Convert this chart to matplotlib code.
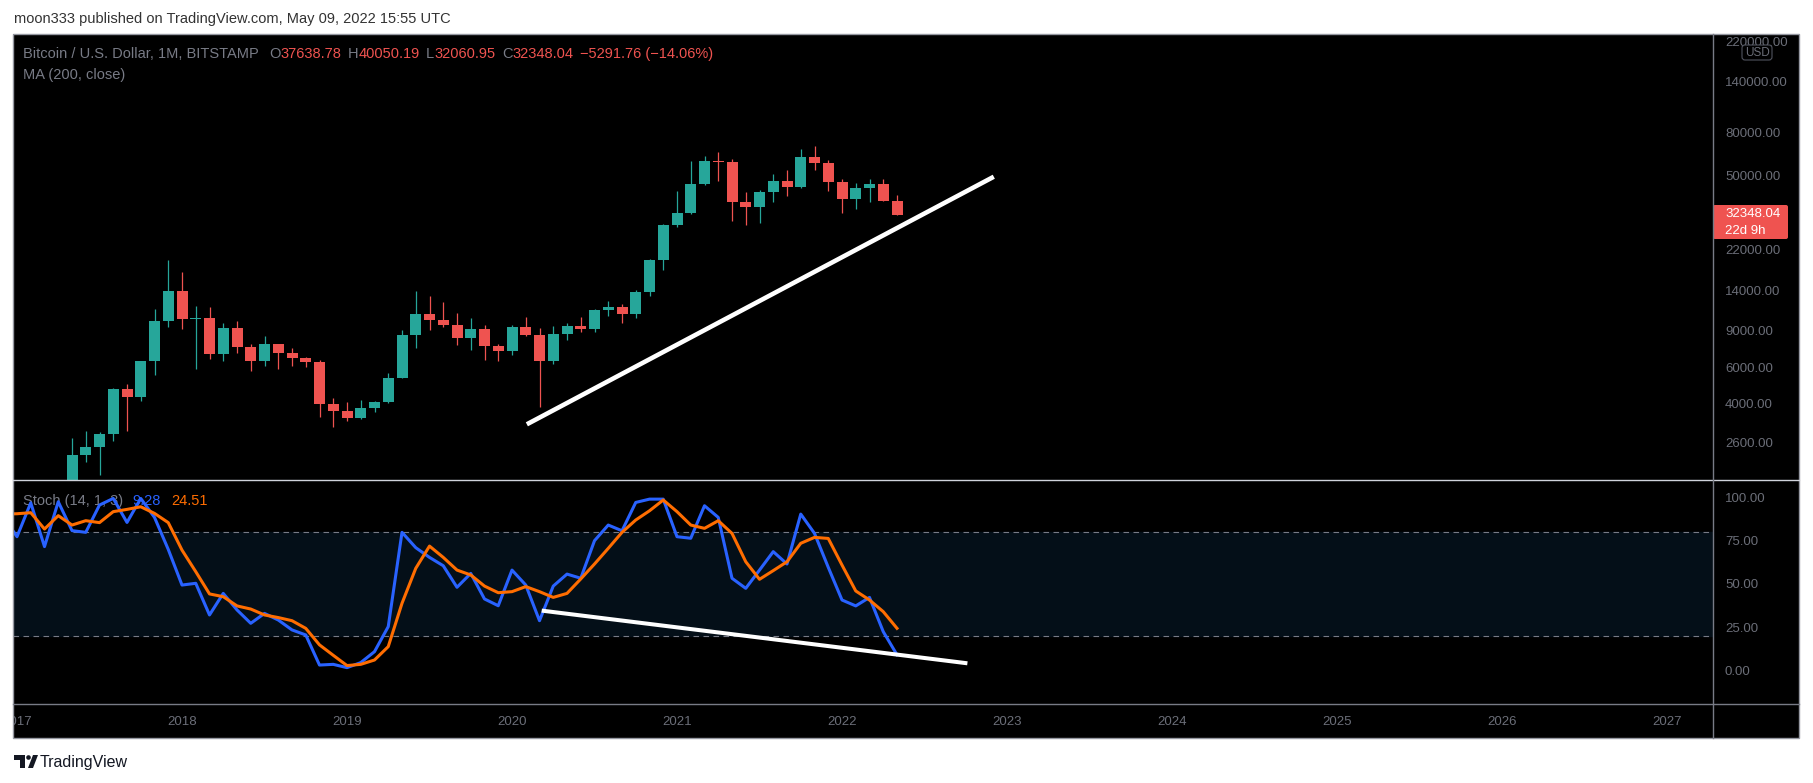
import matplotlib
matplotlib.use('Agg')
import matplotlib.pyplot as plt
from matplotlib.patches import Rectangle, FancyBboxPatch, Circle, Polygon
from matplotlib.ticker import NullLocator

plt.rcParams['font.family'] = ['Liberation Sans', 'DejaVu Sans']

W, H = 1813, 783

# monthly candles BTC/USD (Bitstamp)
months = ['2017-05', '2017-06', '2017-07', '2017-08', '2017-09', '2017-10', '2017-11', '2017-12',
          '2018-01', '2018-02', '2018-03', '2018-04', '2018-05', '2018-06', '2018-07', '2018-08',
          '2018-09', '2018-10', '2018-11', '2018-12',
          '2019-01', '2019-02', '2019-03', '2019-04', '2019-05', '2019-06', '2019-07', '2019-08',
          '2019-09', '2019-10', '2019-11', '2019-12',
          '2020-01', '2020-02', '2020-03', '2020-04', '2020-05', '2020-06', '2020-07', '2020-08',
          '2020-09', '2020-10', '2020-11', '2020-12',
          '2021-01', '2021-02', '2021-03', '2021-04', '2021-05', '2021-06', '2021-07', '2021-08',
          '2021-09', '2021-10', '2021-11', '2021-12',
          '2022-01', '2022-02', '2022-03', '2022-04', '2022-05']
opens = [1348, 2286, 2480, 2875, 4740, 4340, 6440, 9950,
         13860, 10250, 10330, 6920, 9250, 7500, 6400, 7730, 7030, 6630, 6370, 4010,
         3690, 3440, 3820, 4100, 5320, 8570, 10820, 10080, 9600, 8290, 9150, 7550,
         7200, 9350, 8540, 6420, 8630, 9450, 9140, 11340, 11650, 10780, 13800, 19700,
         28990, 33110, 45140, 58780, 57720, 37300, 35040, 41460, 47130, 43820, 61320, 57000,
         46220, 38480, 43180, 45530, 37638.78]
highs = [2760, 2980, 2920, 4760, 4975, 6460, 11400, 19660,
         17200, 11800, 11700, 9750, 10020, 7760, 8500, 7760, 7410, 6740, 6500, 4270,
         4080, 4180, 4140, 5620, 9060, 13880, 13180, 12330, 10900, 10330, 9570, 7740,
         9570, 10440, 9250, 9460, 9780, 10440, 11440, 12470, 12050, 14060, 19860, 29300,
         41950, 58350, 61780, 64900, 59600, 41330, 42400, 50500, 52950, 67000, 69000, 59100,
         47990, 45800, 48200, 47950, 40050.19]
lows = [1348, 2100, 1830, 2670, 2970, 4110, 5500, 9380,
        9200, 5870, 6590, 6440, 7050, 5770, 6090, 5900, 6090, 6030, 3475, 3110,
        3310, 3380, 3660, 4030, 5350, 7450, 9060, 9350, 7680, 7260, 6500, 6430,
        6870, 8450, 3850, 6190, 8130, 8870, 8900, 10600, 9820, 10380, 13200, 17600,
        28150, 32400, 44950, 47000, 30000, 28800, 29600, 37330, 39600, 43300, 53250, 42000,
        32950, 34320, 37180, 37600, 32060.95]
closes = [2286, 2480, 2875, 4740, 4340, 6440, 9950, 13860,
          10250, 10330, 6920, 9250, 7500, 6400, 7730, 7030, 6630, 6370, 4010, 3690,
          3440, 3820, 4100, 5320, 8570, 10820, 10080, 9600, 8290, 9150, 7550, 7200,
          9350, 8540, 6420, 8630, 9450, 9140, 11340, 11650, 10780, 13800, 19700, 28990,
          33110, 45140, 58780, 57720, 37300, 35040, 41460, 47130, 43820, 61320, 57000, 46220,
          38480, 43180, 45530, 37639.80, 32348.04]

# Stoch (14, 1, 3): %K blue, %D orange, Dec 2016 - May 2022
stoch_months = ['2016-12'] + [f'{y}-{m:02d}' for y in range(2017, 2022) for m in range(1, 13)] + \
               ['2022-01', '2022-02', '2022-03', '2022-04', '2022-05']
stoch_k = [88.7,
           77.2, 96.7, 71.5, 97.3, 80.7, 79.7, 95.4, 99.2, 85.4, 99.2, 88.3, 69.9,
           49.4, 50.4, 32.2, 44.6, 35.1, 27.4, 33.1, 29.3, 23.6, 20.7, 3.4, 3.8,
           1.9, 4.8, 11.1, 25.5, 79.7, 70.9, 65.3, 60.5, 48.1, 56.1, 41.4, 37.5,
           58.0, 49.4, 28.9, 48.8, 55.7, 53.3, 74.9, 83.9, 80.6, 96.9, 98.8, 98.8,
           77.2, 76.3, 95.0, 88.3, 53.3, 47.5, 58.0, 68.6, 61.5, 90.2, 79.1, 59.6,
           40.8, 37.4, 42.3, 22.6, 9.28]
stoch_d = [90.2,
           90.4, 91.0, 81.6, 89.3, 83.9, 86.4, 85.3, 91.6, 92.9, 94.4, 90.6, 85.3,
           69.5, 57.1, 44.3, 42.7, 37.4, 35.6, 32.2, 30.7, 28.9, 24.5, 15.0, 9.0,
           3.1, 3.8, 6.3, 14.0, 38.9, 59.0, 71.8, 65.3, 58.0, 55.2, 48.8, 45.0,
           45.6, 48.5, 45.6, 42.3, 44.6, 52.9, 61.5, 70.5, 79.7, 86.8, 92.1, 98.3,
           91.6, 83.9, 82.0, 86.4, 79.1, 62.8, 52.7, 57.7, 62.8, 73.4, 76.8, 76.2,
           60.9, 46.0, 40.8, 34.1, 24.51]

# hand-drawn trend lines (decimal year, value)
trend_main_t = [2020.09, 2022.92]
trend_main_p = [3194, 49170]
trend_stoch_t = [2020.18, 2022.76]
trend_stoch_v = [34.7, 4.4]

price_ticks = [2600, 4000, 6000, 9000, 14000, 22000, 50000, 80000, 140000, 220000]
stoch_ticks = [0, 25, 50, 75, 100]
years = list(range(2017, 2028))

GREEN, RED = '#26a69a', '#ef5350'
TXT = '#6b6e78'


def to_t(s):
    y, m = s.split('-')
    return int(y) + (int(m) - 1) / 12


def px_t(x):
    return 2018 + (x - 182) / 165


t = [to_t(s) for s in months]
ts = [to_t(s) for s in stoch_months]

fig = plt.figure(figsize=(W / 100, H / 100), dpi=100)
fig.patch.set_facecolor('white')

L, R = 12.7, 1713
fig.add_artist(Rectangle((L / W, 1 - 738 / H), (1799 - L) / W, (738 - 34) / H,
                         transform=fig.transFigure, facecolor='black', edgecolor='none', zorder=-10))

ax1 = fig.add_axes([L / W, 1 - 480 / H, (R - L) / W, (480 - 34) / H])
ax2 = fig.add_axes([L / W, 1 - 704 / H, (R - L) / W, (704 - 480) / H])
ax3 = fig.add_axes([L / W, 1 - 738 / H, (R - L) / W, (738 - 704) / H])
for a in (ax1, ax2, ax3):
    a.set_facecolor('black')
    a.set_xlim(px_t(L), px_t(R))
    a.set_xticks([])
    for s in a.spines.values():
        s.set_visible(False)

# main price pane
ax1.set_yscale('log')
ax1.set_ylim(1726.7, 237800)
cols = [GREEN if c >= o else RED for o, c in zip(opens, closes)]
ax1.vlines(t, lows, highs, colors=cols, lw=0.9, zorder=2)
ax1.bar(t, [abs(c - o) for o, c in zip(opens, closes)], bottom=[min(o, c) for o, c in zip(opens, closes)],
        width=11 / 165, color=cols, zorder=3)
ax1.plot(trend_main_t, trend_main_p, color='white', lw=3.3, solid_capstyle='butt', zorder=4)
ax1.yaxis.tick_right()
ax1.set_yticks(price_ticks)
ax1.set_yticklabels([f'{p:.2f}' for p in price_ticks])
ax1.yaxis.set_minor_locator(NullLocator())
ax1.tick_params(axis='y', which='both', length=0, pad=8.6, labelsize=9.5, labelcolor=TXT)

# stochastic pane
ax2.set_ylim(-19.0, 109.8)
ax2.axhspan(20, 80, color='#040f18', zorder=0)
for lvl in (80, 20):
    ax2.axhline(lvl, color='#787b86', lw=0.8, ls=(0, (5, 4)), zorder=1)
ax2.plot(ts, stoch_k, color='#2962ff', lw=2.2, zorder=3)
ax2.plot(ts, stoch_d, color='#ff6d00', lw=2.2, zorder=4)
ax2.plot(trend_stoch_t, trend_stoch_v, color='white', lw=2.9, solid_capstyle='butt', zorder=5)
ax2.yaxis.tick_right()
ax2.set_yticks(stoch_ticks)
ax2.set_yticklabels([f'{v:.2f}' for v in stoch_ticks])
ax2.tick_params(axis='y', length=0, pad=8.6, labelsize=9.5, labelcolor=TXT)

# time axis
ax3.set_ylim(0, 1)
ax3.set_yticks([])
for y in years:
    ax3.text(y, 0.48, str(y), ha='center', va='center', fontsize=9.5, color=TXT, clip_on=True)

# overlay in pixel coordinates
ov = fig.add_axes([0, 0, 1, 1], zorder=10)
ov.set_xlim(0, W)
ov.set_ylim(H, 0)
ov.axis('off')
ov.patch.set_visible(False)

# stoch legend (drawn under the lines)
s1 = ax2.text(23, 501, 'Stoch (14, 1, 3)', transform=ov.transData, va='center',
              fontsize=10.5, color='#787b86', zorder=1)
s2 = ax2.annotate(f'{stoch_k[-1]:.2f}', xy=(1, 0), xycoords=s1, xytext=(7, 0),
                  textcoords='offset points', va='bottom', fontsize=10.5, color='#2962ff', zorder=1)
ax2.annotate(f'{stoch_d[-1]:.2f}', xy=(1, 0), xycoords=s2, xytext=(7, 0),
             textcoords='offset points', va='bottom', fontsize=10.5, color='#ff6d00', zorder=1)

# frame lines
ov.add_patch(Rectangle((L, 34), 1799 - L, 738 - 34, fill=False, edgecolor='#9598a1', lw=1))
ov.plot([L, 1799], [480, 480], color='#d1d4dc', lw=1)
ov.plot([L, 1799], [704, 704], color='#787b86', lw=1)
ov.plot([R, R], [34, 738], color='#787b86', lw=1)

# title
ov.text(14, 19, 'moon333 published on TradingView.com, May 09, 2022 15:55 UTC',
        va='center', fontsize=10.5, color='#333333')

# main legend
pieces = [('Bitcoin / U.S. Dollar, 1M, BITSTAMP', '#787b86', 0),
          ('O', '#787b86', 7.2), (f'{opens[-1]:.2f}', RED, 0),
          ('H', '#787b86', 4.8), (f'{highs[-1]:.2f}', RED, 0),
          ('L', '#787b86', 4.8), (f'{lows[-1]:.2f}', RED, 0),
          ('C', '#787b86', 4.8), (f'{closes[-1]:.2f}', RED, 0)]
chg = closes[-1] - closes[-2]
pieces.append((f'\u2212{abs(chg):.2f} (\u2212{abs(chg) / closes[-2] * 100:.2f}%)', RED, 4.8))
prev = ov.text(23, 54, pieces[0][0], va='center', fontsize=10.5, color=pieces[0][1])
for txt, col, gap in pieces[1:]:
    prev = ov.annotate(txt, xy=(1, 0), xycoords=prev, xytext=(gap, 0), textcoords='offset points',
                       va='bottom', fontsize=10.5, color=col)
ov.text(23, 75, 'MA (200, close)', va='center', fontsize=10.5, color='#787b86')

# USD badge
ov.add_patch(FancyBboxPatch((1742, 45), 30, 15, boxstyle='round,pad=0,rounding_size=3',
                            facecolor='black', edgecolor='#50535e', lw=0.8))
ov.text(1757, 52.5, 'USD', ha='center', va='center', fontsize=8.5, color=TXT)

# last price label
ov.add_patch(FancyBboxPatch((1713, 205), 75, 34, boxstyle='round,pad=0,rounding_size=2',
                            facecolor=RED, edgecolor='none'))
ov.text(1725, 214, f'{closes[-1]:.2f}', va='center', fontsize=9.5, color='white')
ov.text(1725, 231, '22d 9h', va='center', fontsize=9.5, color='white')

# TradingView logo
ov.add_patch(Polygon([(14, 755), (25, 755), (25, 768), (20, 768), (20, 759.5), (14, 759.5)],
                     closed=True, facecolor='#131722', edgecolor='none'))
ov.add_patch(Circle((28.5, 757.5), 2.3, facecolor='#131722', edgecolor='none'))
ov.add_patch(Polygon([(28, 768), (33, 768), (38, 755), (33, 755)], closed=True,
                     facecolor='#131722', edgecolor='none'))
ov.text(40, 762, 'TradingView', va='center', fontsize=11.5, color='#131722')

fig.savefig('out.png', dpi=100, facecolor='white')
